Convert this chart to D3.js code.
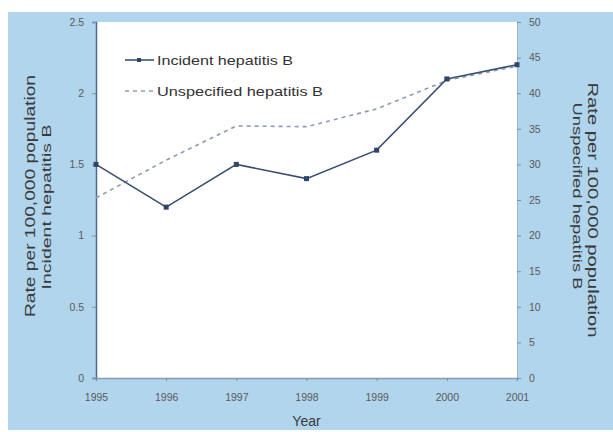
<!DOCTYPE html>
<html><head><meta charset="utf-8">
<script src="https://cdn.jsdelivr.net/npm/d3@7"></script>
<style>body{margin:0;background:#fff}svg{display:block}</style>
</head><body>
<script>
const years = [1995, 1996, 1997, 1998, 1999, 2000, 2001];
const incident = [1.5, 1.2, 1.5, 1.4, 1.6, 2.1, 2.2];
const unspecified = [25.3, 30.6, 35.4, 35.3, 37.8, 41.8, 43.8];
const leftTicks = [0, 0.5, 1, 1.5, 2, 2.5];
const rightTicks = [0, 5, 10, 15, 20, 25, 30, 35, 40, 45, 50];
const seriesNames = ["Incident hepatitis B", "Unspecified hepatitis B"];

const W = 613, H = 432;
const m = {left: 96, right: 517, top: 22, bottom: 378};
const FONT = "'Liberation Sans', Arial, sans-serif";
const svg = d3.select("body").append("svg").attr("width", W).attr("height", H)
  .style("font-family", FONT);

svg.append("rect").attr("x", 8).attr("y", 12).attr("width", W - 8).attr("height", H - 12 - 2).attr("fill", "#b1d5ec");
svg.append("rect").attr("x", m.left).attr("y", m.top).attr("width", m.right - m.left).attr("height", m.bottom - m.top).attr("fill", "#ffffff");

const x = d3.scaleLinear().domain([1995, 2001]).range([m.left, m.right]);
const yL = d3.scaleLinear().domain([0, 2.5]).range([m.bottom, m.top]);
const yR = d3.scaleLinear().domain([0, 50]).range([m.bottom, m.top]);

const tickCol = "#5a5a5a";
const gL = svg.append("g").attr("transform", `translate(${m.left},0)`)
  .call(d3.axisLeft(yL).tickValues(leftTicks).tickSize(4).tickPadding(8).tickFormat(d => d));
const gR = svg.append("g").attr("transform", `translate(${m.right},0)`)
  .call(d3.axisRight(yR).tickValues(rightTicks).tickSize(4).tickPadding(8).tickFormat(d => d));
const gX = svg.append("g").attr("transform", `translate(0,${m.bottom})`)
  .call(d3.axisBottom(x).tickValues(years).tickSize(3).tickPadding(13).tickFormat(d => d));
[gL, gR, gX].forEach(g => {
  g.selectAll("text").attr("font-size", 10.5).attr("fill", tickCol).attr("font-family", FONT);
  g.selectAll("line").attr("stroke", "#7f8fa6");
});
gL.select(".domain").attr("stroke", "#4a6a90").attr("stroke-width", 1.5);
gR.select(".domain").attr("stroke", "#9fb3c6");
gX.select(".domain").attr("stroke", "#8a9bb0").attr("stroke-width", 1.5);

// Unspecified (dashed)
const lineR = d3.line().x((d, i) => x(years[i])).y(d => yR(d));
svg.append("path").datum(unspecified).attr("d", lineR).attr("fill", "none")
  .attr("stroke", "#8d9cb4").attr("stroke-width", 1.6).attr("stroke-dasharray", "4,4");

// Incident (solid with markers)
const lineL = d3.line().x((d, i) => x(years[i])).y(d => yL(d));
svg.append("path").datum(incident).attr("d", lineL).attr("fill", "none")
  .attr("stroke", "#3b4f72").attr("stroke-width", 1.6);
svg.selectAll("rect.pt").data(incident).enter().append("rect").attr("class", "pt")
  .attr("x", (d, i) => x(years[i]) - 2.5).attr("y", d => yL(d) - 2.5)
  .attr("width", 5).attr("height", 5).attr("fill", "#2f4468");

// Legend
const legY = [60, 91];
const legLen = [136, 166];
const lg = svg.append("g");
lg.append("line").attr("x1", 125).attr("x2", 154).attr("y1", legY[0]).attr("y2", legY[0]).attr("stroke", "#3b4f72").attr("stroke-width", 1.6);
lg.append("rect").attr("x", 137).attr("y", legY[0] - 2).attr("width", 4).attr("height", 4).attr("fill", "#2f4468");
lg.append("line").attr("x1", 125).attr("x2", 154).attr("y1", legY[1]).attr("y2", legY[1]).attr("stroke", "#8d9cb4").attr("stroke-width", 1.6).attr("stroke-dasharray", "4,4");
lg.selectAll("text").data(seriesNames).enter().append("text")
  .attr("x", 157).attr("y", (d, i) => legY[i] + 4.5).attr("font-size", 13).attr("fill", "#333")
  .attr("textLength", (d, i) => legLen[i]).attr("lengthAdjust", "spacingAndGlyphs").text(d => d);

// Axis titles
const tc = "#3a3a3a";
function title(tx, ty, rot, size, len, txt) {
  svg.append("text").attr("transform", `translate(${tx},${ty}) rotate(${rot})`).attr("text-anchor", "middle")
    .attr("font-size", size).attr("fill", tc).attr("textLength", len).attr("lengthAdjust", "spacingAndGlyphs").text(txt);
}
title(35, 196, -90, 15, 242, "Rate per 100,000 population");
title(51, 207, -90, 13, 165, "Incident hepatitis B");
title(588, 210, 90, 15, 255, "Rate per 100,000 population");
title(573, 196, 90, 13, 187, "Unspecified hepatitis B");
svg.append("text").attr("x", (m.left + m.right) / 2).attr("y", 426).attr("text-anchor", "middle")
  .attr("font-size", 14).attr("fill", tc).text("Year");
</script>
</body></html>
